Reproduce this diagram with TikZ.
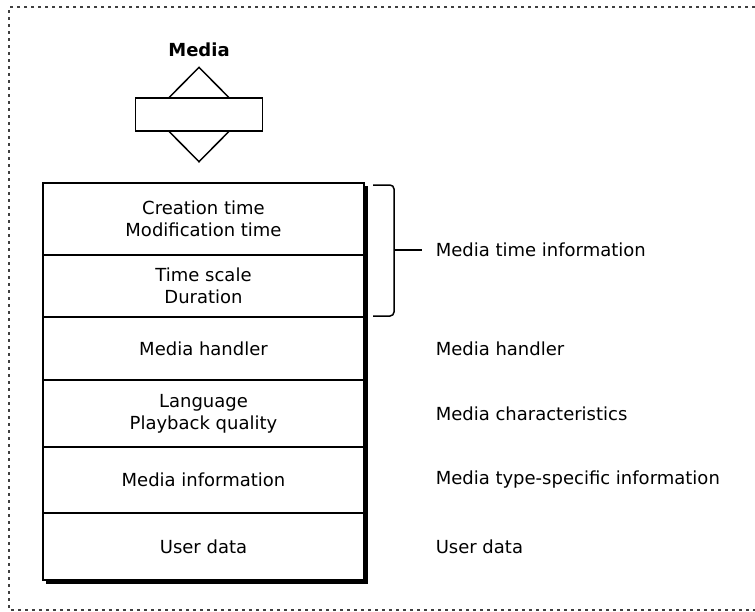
\documentclass[tikz,border=0pt]{standalone}
\usepackage{fontspec}
\setmainfont{DejaVu Sans}
\usetikzlibrary{positioning,calc}
\usetikzlibrary{shapes.geometric}

\begin{document}
\begin{tikzpicture}[
        x=1pt, y=-1pt, % pixel-like units, y runs down
        node distance=0pt,
        line width=1.5pt,
        font=\fontsize{18}{22}\selectfont,
        row/.style={
            draw,
            minimum width=321pt,
            inner sep=0pt,
            outer sep=0pt,
            align=center
        },
        note/.style={
            anchor=west,
            inner sep=0pt
        },
        frame/.style={
            line width=1.4pt,
            black!75,
            dash pattern=on 3pt off 4pt
        }
    ]
    \useasboundingbox (0,0) rectangle (755,611);
    \draw[frame] (755,7) -- (9,7) -- (9,610) -- (755,610);

    % media icon
    \node (title) at (199,50) {\bfseries Media};
    \node[draw, diamond, minimum width=94pt, minimum height=95pt, inner sep=0pt] (dia) at (199,114.5) {};
    \node[draw, fill=white, minimum width=127pt, minimum height=33pt] (bar) at (dia) {};

    % the media atom
    \node[row, minimum height=72pt] (r1) at (203.5,219) {Creation time\\Modification time};
    \node[row, minimum height=62pt, below=of r1] (r2) {Time scale\\Duration};
    \node[row, minimum height=63pt, below=of r2] (r3) {Media handler};
    \node[row, minimum height=67pt, below=of r3] (r4) {Language\\Playback quality};
    \node[row, minimum height=66pt, below=of r4] (r5) {Media information};
    \node[row, minimum height=67pt, below=of r5] (r6) {User data};
    \draw[line width=2.5pt] ($(r1.north east)+(2.5,3)$) -- ($(r6.south east)+(2.5,2.5)$)
        -- ($(r6.south west)+(3,2.5)$);

    % brace
    \draw[rounded corners=4pt] ($(r1.north east)+(9,2)$) -- ($(r1.north east)+(30,2)$)
        -- ($(r2.south east)+(30,-1)$) -- ($(r2.south east)+(9,-1)$);
    \coordinate (bmid) at ($(r1.north east)!0.5!(r2.south east)+(30,0)$);

    \node[note, right=41pt of bmid] (timeinfo) {Media time information};
    \node[note, right=71pt of r3] (handler) {Media handler};
    \node[note, right=71pt of r4] (charac) {Media characteristics};
    \node[note, right=71pt of r5] (typeinfo) {Media type-specific information};
    \node[note, right=71pt of r6] (udata) {User data};
    \draw (bmid) -- ([xshift=-13pt]timeinfo.west);
\end{tikzpicture}
\end{document}
